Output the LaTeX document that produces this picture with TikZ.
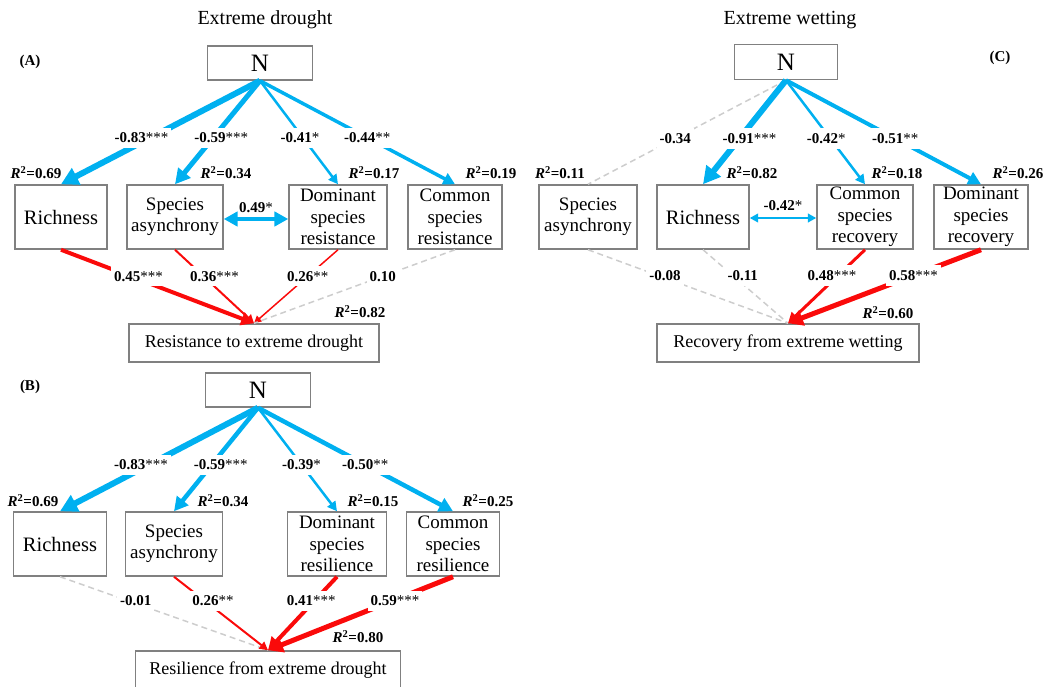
\documentclass[tikz,border=0pt]{standalone}
\usepackage{fontspec}
\setmainfont{Liberation Serif}
\usetikzlibrary{arrows.meta,positioning}
\definecolor{pathblue}{RGB}{0,176,240}
\definecolor{pathred}{RGB}{250,10,10}
\definecolor{boxgray}{RGB}{128,128,128}
\definecolor{nsgray}{RGB}{205,205,205}
\newcommand{\rsq}[1]{\textbf{\textit{R}\textsuperscript{\upshape 2}=#1}}
\newcommand{\coef}[2]{\textbf{#1}#2}
\tikzset{
  varbox/.style={draw=boxgray,fill=white,line width=1.5pt,align=center,inner sep=1pt,
    minimum height=64pt,font=\fontsize{19}{21.5}\selectfont},
  nbox/.style={draw=boxgray,fill=white,line width=1.5pt,minimum width=105pt,
    minimum height=34pt,font=\fontsize{25}{27}\selectfont},
  outbox/.style={draw=boxgray,fill=white,line width=1.5pt,minimum height=38pt,
    font=\fontsize{18}{20}\selectfont},
  negarr/.style={draw=pathblue,->},
  posarr/.style={draw=pathred,->},
  nsline/.style={draw=nsgray,line width=1.5pt,dash pattern=on 6pt off 4pt},
  pathlab/.style={fill=white,inner xsep=3pt,inner ysep=5pt,font=\fontsize{15}{17}\selectfont},
  rlab/.style={font=\fontsize{15}{17}\selectfont},
  paneltag/.style={font=\fontsize{15}{17}\selectfont\bfseries},
  paneltitle/.style={font=\fontsize{20}{22}\selectfont}
}

\begin{document}
\begin{tikzpicture}[x=1pt,y=-1pt,
  >={Triangle[length=4pt 2.2,width=4pt 2.3]}]
\useasboundingbox (0,0) rectangle (1047,687);

% (A) resistance to extreme drought
\node[paneltitle] at (265,20) {Extreme drought};
\node[paneltag] at (30,62) {(A)};
\node[nbox] (NA) at (260,63) {N};
\node[varbox,minimum width=92pt,font=\fontsize{20.5}{22}\selectfont] (richA) at (61,217) {Richness};
\node[varbox,minimum width=96pt] (asynA) at (175,217) {Species\\asynchrony};
\node[varbox,minimum width=98pt] (domA) at (338,217) {Dominant\\species\\resistance};
\node[varbox,minimum width=94pt] (comA) at (455,217) {Common\\species\\resistance};
\node[outbox,minimum width=250pt] (resA) at (254,343) {Resistance to extreme drought};

\draw[negarr,line width=6pt] (NA.south) -- node[pathlab,pos=.55,xshift=-9pt] {\coef{-0.83}{***}} (richA.north);
\draw[negarr,line width=5pt] (NA.south) -- node[pathlab,pos=.55,xshift=8pt] {\coef{-0.59}{***}} (asynA.north);
\draw[negarr,line width=2.5pt] (NA.south) -- node[pathlab,pos=.55,xshift=-3pt] {\coef{-0.41}{*}} (domA.north);
\draw[negarr,line width=3.5pt] (NA.south) -- node[pathlab,pos=.55] {\coef{-0.44}{**}} (comA.north);
\draw[draw=pathblue,<->,line width=4.5pt] (asynA.east |- 0,219) -- node[above,rlab,yshift=1pt] {\coef{0.49}{*}} (domA.west |- 0,219);

\draw[posarr,line width=4pt] (richA.south) -- node[pathlab,pos=.36,xshift=8pt] {\coef{0.45}{***}} (resA.north);
\draw[posarr,line width=2pt] (asynA.south) -- node[pathlab,pos=.36,xshift=11pt] {\coef{0.36}{***}} (resA.north);
\draw[posarr,line width=1.5pt] (domA.south) -- node[pathlab,pos=.36] {\coef{0.26}{**}} (resA.north);
\draw[nsline] (comA.south) -- node[pathlab,pos=.36] {\coef{0.10}{}} (resA.north);

\node[rlab] at (36,173) {\rsq{0.69}};
\node[rlab] at (226,173) {\rsq{0.34}};
\node[rlab] at (374,173) {\rsq{0.17}};
\node[rlab] at (491,173) {\rsq{0.19}};
\node[rlab] at (360,312) {\rsq{0.82}};

% (B) resilience from extreme drought
\node[paneltag] at (30,387) {(B)};
\node[nbox] (NB) at (258,390) {N};
\node[varbox,minimum width=93pt,font=\fontsize{20.5}{22}\selectfont] (richB) at (60,544) {Richness};
\node[varbox,minimum width=97pt] (asynB) at (174,544) {Species\\asynchrony};
\node[varbox,minimum width=99pt] (domB) at (337,544) {Dominant\\species\\resilience};
\node[varbox,minimum width=93pt] (comB) at (453,544) {Common\\species\\resilience};
\node[outbox,minimum width=265pt] (resB) at (268,670) {Resilience from extreme drought};

\draw[negarr,line width=6pt] (NB.south) -- node[pathlab,pos=.55,xshift=-8pt] {\coef{-0.83}{***}} (richB.north);
\draw[negarr,line width=4.5pt] (NB.south) -- node[pathlab,pos=.55,xshift=9pt] {\coef{-0.59}{***}} (asynB.north);
\draw[negarr,line width=2.5pt] (NB.south) -- node[pathlab,pos=.55] {\coef{-0.39}{*}} (domB.north);
\draw[negarr,line width=4.5pt] (NB.south) -- node[pathlab,pos=.55] {\coef{-0.50}{**}} (comB.north);

\draw[nsline] (richB.south) -- node[pathlab,pos=.33,xshift=7pt] {\coef{-0.01}{}} (resB.north);
\draw[posarr,line width=2pt] (asynB.south) -- node[pathlab,pos=.33,xshift=8pt] {\coef{0.26}{**}} (resB.north);
\draw[posarr,line width=4pt] (domB.south) -- node[pathlab,pos=.33,xshift=-3pt] {\coef{0.41}{***}} (resB.north);
\draw[posarr,line width=5pt] (comB.south) -- node[pathlab,pos=.33,xshift=3pt] {\coef{0.59}{***}} (resB.north);

\node[rlab] at (33,501) {\rsq{0.69}};
\node[rlab] at (223,501) {\rsq{0.34}};
\node[rlab] at (373,501) {\rsq{0.15}};
\node[rlab] at (488,501) {\rsq{0.25}};
\node[rlab] at (358,637) {\rsq{0.80}};

% (C) recovery from extreme wetting
\node[paneltitle] at (790,20) {Extreme wetting};
\node[paneltag] at (1000,58) {(C)};
\node[nbox,minimum width=103pt,minimum height=35pt] (NC) at (786,62) {N};
\node[varbox,minimum width=98pt] (asynC) at (588,217) {Species\\asynchrony};
\node[varbox,minimum width=92pt,font=\fontsize{20.5}{22}\selectfont] (richC) at (703,217) {Richness};
\node[varbox,minimum width=96pt] (comC) at (865,217) {Common\\species\\recovery};
\node[varbox,minimum width=94pt] (domC) at (981,217) {Dominant\\species\\recovery};
\node[outbox,minimum width=262pt] (recC) at (788,343) {Recovery from extreme wetting};

\draw[nsline] (NC.south) -- node[pathlab,pos=.56] {\coef{-0.34}{}} (asynC.north);
\draw[negarr,line width=6pt] (NC.south) -- node[pathlab,pos=.56,xshift=10pt] {\coef{-0.91}{***}} (richC.north);
\draw[negarr,line width=2.5pt] (NC.south) -- node[pathlab,pos=.56,xshift=-4pt] {\coef{-0.42}{*}} (comC.north);
\draw[negarr,line width=4pt] (NC.south) -- node[pathlab,pos=.56] {\coef{-0.51}{**}} (domC.north);
\draw[draw=pathblue,<->,line width=2pt] (richC.east |- 0,218) -- node[above,rlab,yshift=3pt] {\coef{-0.42}{*}} (comC.west |- 0,218);

\draw[nsline] (asynC.south) -- node[pathlab,pos=.35,xshift=7pt] {\coef{-0.08}{}} (recC.north);
\draw[nsline] (richC.south) -- node[pathlab,pos=.35,xshift=10pt] {\coef{-0.11}{}} (recC.north);
\draw[posarr,line width=3pt] (comC.south) -- node[pathlab,pos=.35,xshift=-6pt] {\coef{0.48}{***}} (recC.north);
\draw[posarr,line width=5pt] (domC.south) -- node[pathlab,pos=.35] {\coef{0.58}{***}} (recC.north);

\node[rlab] at (560,173) {\rsq{0.11}};
\node[rlab] at (752,173) {\rsq{0.82}};
\node[rlab] at (897,173) {\rsq{0.18}};
\node[rlab] at (1018,173) {\rsq{0.26}};
\node[rlab] at (888,313) {\rsq{0.60}};
\end{tikzpicture}
\end{document}
